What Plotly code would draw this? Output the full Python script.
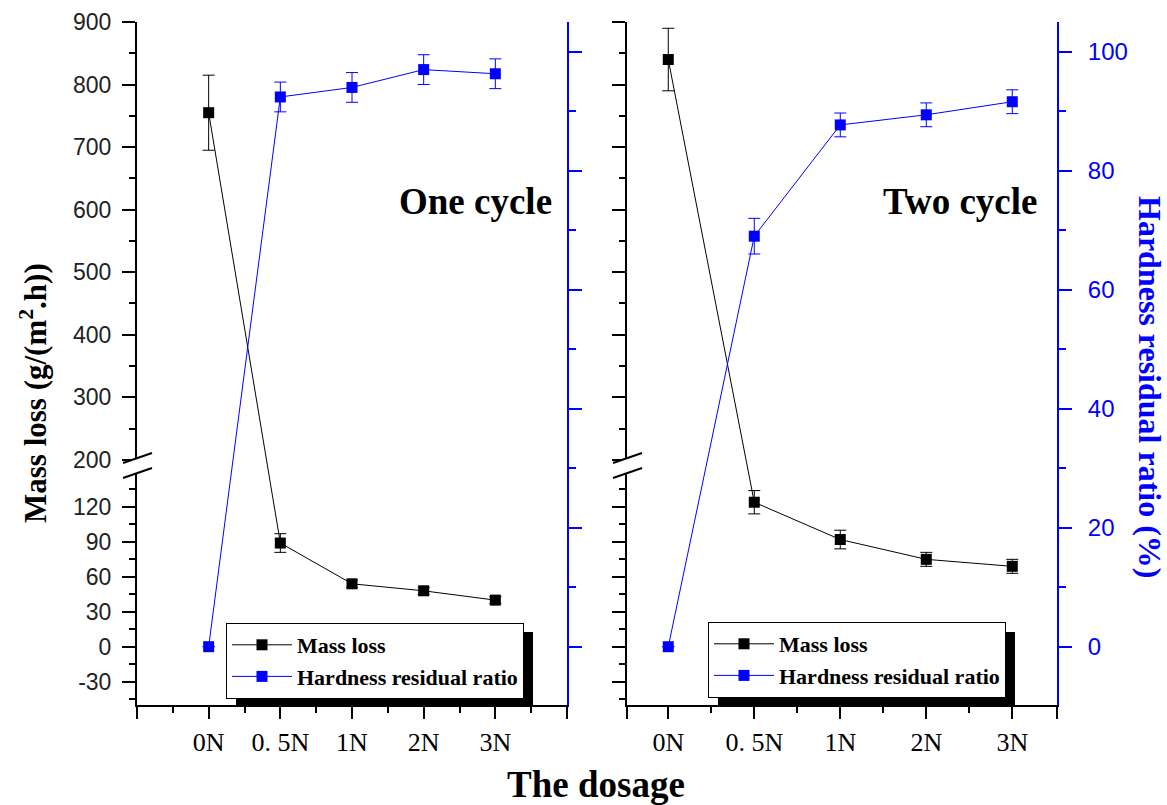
import plotly.graph_objects as go

# ---------------- data ----------------
categories = ["0N", "0. 5N", "1N", "2N", "3N"]

mass_loss_one = [755, 89, 54, 48, 40]
mass_loss_one_err = [60, 8, 3, 3, 3]
hardness_one = [0, 92.4, 94.0, 97.0, 96.3]
hardness_one_err = [0, 2.5, 2.5, 2.5, 2.5]

mass_loss_two = [840, 124, 92, 75, 69]
mass_loss_two_err = [50, 10, 8, 6, 6]
hardness_two = [0, 69.0, 87.7, 89.4, 91.6]
hardness_two_err = [0, 3, 2, 2, 2]

ml_major_low = [-30, 0, 30, 60, 90, 120]
ml_minor_low = [-45, -15, 15, 45, 75, 105, 135]
ml_major_up = [200, 300, 400, 500, 600, 700, 800, 900]
ml_minor_up = [250, 350, 450, 550, 650, 750, 850]
hr_major = [0, 20, 40, 60, 80, 100]

# ---------------- broken-axis scale ----------------
LOW_TOP, UP_BOT, RATIO = 155.0, 190.0, 0.5368


def brk(v):
    return v if v <= LOW_TOP else LOW_TOP + (v - UP_BOT) * RATIO


ML_RANGE = [-50, brk(900)]
HR_RANGE = [-9.8, 105]

W, H = 1167, 805


def px(x):
    return x / W


def py(y):
    return 1 - y / H


xpos = [i + 1 for i in range(len(categories))]

BLUE = "#0000FF"
SERIF = "Liberation Serif"
SANS = "Liberation Sans"

fig = go.Figure()


def err(vals, errs):
    plus = [brk(v + e) - brk(v) for v, e in zip(vals, errs)]
    minus = [brk(v) - brk(v - e) for v, e in zip(vals, errs)]
    return plus, minus


def add_panel(xa, ya_ml, ya_hr, ml, ml_e, hr, hr_e, legend):
    p, m = err(ml, ml_e)
    fig.add_trace(go.Scatter(
        x=xpos, y=[brk(v) for v in ml], xaxis=xa, yaxis=ya_ml,
        mode="lines+markers", name="Mass loss", legend=legend,
        line=dict(color="black", width=1),
        marker=dict(symbol="square", size=11, color="black"),
        error_y=dict(type="data", array=p, arrayminus=m, symmetric=False,
                     color="black", thickness=1, width=6),
        cliponaxis=False,
    ))
    fig.add_trace(go.Scatter(
        x=xpos, y=hr, xaxis=xa, yaxis=ya_hr,
        mode="lines+markers", name="Hardness residual ratio", legend=legend,
        line=dict(color=BLUE, width=1),
        marker=dict(symbol="square", size=11, color=BLUE),
        error_y=dict(type="data", array=hr_e, color=BLUE, thickness=1, width=6),
        cliponaxis=False,
    ))


add_panel("x", "y", "y2", mass_loss_one, mass_loss_one_err, hardness_one, hardness_one_err, "legend")
add_panel("x2", "y3", "y4", mass_loss_two, mass_loss_two_err, hardness_two, hardness_two_err, "legend2")

ydom = [py(705), py(22)]
dom_l = [px(137), px(567)]
dom_r = [px(627), px(1057)]

ml_tickvals = [brk(v) for v in ml_major_low + ml_major_up]
ml_ticktext = [str(v) for v in ml_major_low + ml_major_up]
ml_minor = [brk(v) for v in ml_minor_low + ml_minor_up]


def xaxis_bottom(domain, rng, majors, labels, minors):
    return dict(domain=domain, range=rng, tickmode="array",
                tickvals=majors, ticktext=labels, ticks="outside", ticklen=12,
                tickwidth=2, tickcolor="black", showline=True, linewidth=2,
                linecolor="black", showgrid=False, zeroline=False,
                tickfont=dict(family=SERIF, size=26, color="black"),
                ticklabelstandoff=1,
                minor=dict(tickmode="array", tickvals=minors, ticks="outside",
                           ticklen=6, tickwidth=2, tickcolor="black"))


def xaxis_top(over, rng, majors, minors):
    return dict(overlaying=over, side="top", range=rng, tickmode="array",
                tickvals=majors, showticklabels=False, ticks="inside", ticklen=12,
                tickwidth=2, tickcolor="black", showline=True, linewidth=2,
                linecolor="black", showgrid=False, zeroline=False,
                minor=dict(tickmode="array", tickvals=minors, ticks="inside",
                           ticklen=6, tickwidth=2, tickcolor="black"))


def ml_axis(anchor, labels):
    return dict(domain=ydom, anchor=anchor, range=ML_RANGE, tickmode="array",
                tickvals=ml_tickvals, ticktext=ml_ticktext, showticklabels=labels,
                ticks="outside", ticklen=13, tickwidth=2, tickcolor="black",
                showline=True, linewidth=2, linecolor="black", showgrid=False,
                zeroline=False, ticklabelstandoff=6,
                tickfont=dict(family=SANS, size=23, color="#222222"),
                minor=dict(tickmode="array", tickvals=ml_minor, ticks="outside",
                           ticklen=6, tickwidth=2, tickcolor="black"))


def hr_axis(over, anchor, labels):
    return dict(overlaying=over, anchor=anchor, side="right", range=HR_RANGE,
                tickmode="array", tickvals=hr_major, showticklabels=labels,
                ticks="outside", ticklen=13, tickwidth=2, tickcolor=BLUE,
                showline=True, linewidth=2, linecolor=BLUE, showgrid=False,
                zeroline=False, ticklabelstandoff=11,
                tickfont=dict(family=SANS, size=24, color=BLUE),
                minor=dict(tickmode="linear", tick0=0, dtick=10, ticks="outside",
                           ticklen=7, tickwidth=2, tickcolor=BLUE))


rng_l = [0, 6]
rng_r = [0.52, 5.52]
maj_l = [0] + xpos + [6]
lab_l = [" "] + categories + [" "]
min_l = [0.5, 1.5, 2.5, 3.5, 4.5, 5.5]
maj_r = [0.52] + xpos + [5.52]
lab_r = [" "] + categories + [" "]
min_r = [1.5, 2.5, 3.5, 4.5]

xa1 = xaxis_bottom(dom_l, rng_l, maj_l, lab_l, min_l)
xa1["anchor"] = "y"
xa2 = xaxis_bottom(dom_r, rng_r, maj_r, lab_r, min_r)
xa2["anchor"] = "y3"
xa3 = xaxis_top("x", rng_l, maj_l, min_l)
xa3["anchor"] = "y"
xa4 = xaxis_top("x2", rng_r, maj_r, min_r)
xa4["anchor"] = "y3"

legend_common = dict(xanchor="left", yanchor="top", bgcolor="white",
                     bordercolor="black", borderwidth=1, itemwidth=60,
                     font=dict(family=SERIF, size=22, color="black", weight="bold"),
                     tracegroupgap=0)

shapes = []
# legend shadows (offset 10 px right/down from each legend box)
shapes.append(dict(type="rect", xref="paper", yref="paper", x0=px(236), x1=px(533),
                   y0=py(705), y1=py(632), fillcolor="black", line=dict(width=0), layer="above"))
shapes.append(dict(type="rect", xref="paper", yref="paper", x0=px(718), x1=px(1015),
                   y0=py(705), y1=py(632), fillcolor="black", line=dict(width=0), layer="above"))
# axis break marks
for ax_x in (137, 627):
    x0, x1 = ax_x - 14, ax_x + 15
    shapes.append(dict(type="path", xref="paper", yref="paper",
                       path=f"M {px(x0)} {py(463)} L {px(x1)} {py(453)} L {px(x1)} {py(468)} L {px(x0)} {py(478)} Z",
                       fillcolor="white", line=dict(width=0), layer="above"))
    for (ya, yb) in ((463, 453), (478, 468)):
        shapes.append(dict(type="line", xref="paper", yref="paper",
                           x0=px(x0), y0=py(ya), x1=px(x1), y1=py(yb),
                           line=dict(color="black", width=2), layer="above"))

annotations = [
    dict(text="One cycle", x=px(475), y=py(201), xref="paper", yref="paper",
         showarrow=False, xanchor="center", yanchor="middle",
         font=dict(family=SERIF, size=37, color="black", weight="bold")),
    dict(text="Two cycle", x=px(960), y=py(201), xref="paper", yref="paper",
         showarrow=False, xanchor="center", yanchor="middle",
         font=dict(family=SERIF, size=37, color="black", weight="bold")),
    dict(text="The dosage", x=px(596), y=py(784), xref="paper", yref="paper",
         showarrow=False, xanchor="center", yanchor="middle",
         font=dict(family=SERIF, size=37, color="black", weight="bold")),
    dict(text="Mass loss (g/(m<sup>2</sup>.h))", x=px(33), y=py(393), xref="paper", yref="paper",
         showarrow=False, xanchor="center", yanchor="middle", textangle=-90,
         font=dict(family=SERIF, size=31, color="black", weight="bold")),
    dict(text="Hardness residual ratio (%)", x=px(1150), y=py(387), xref="paper", yref="paper",
         showarrow=False, xanchor="center", yanchor="middle", textangle=90,
         font=dict(family=SERIF, size=32, color=BLUE, weight="bold")),
]

fig.update_layout(
    width=W, height=H,
    margin=dict(l=0, r=0, t=0, b=0, pad=0, autoexpand=False),
    paper_bgcolor="white", plot_bgcolor="white",
    xaxis=xa1, xaxis2=xa2, xaxis3=xa3, xaxis4=xa4,
    yaxis=ml_axis("x", True), yaxis2=hr_axis("y", "x", False),
    yaxis3=ml_axis("x2", False), yaxis4=hr_axis("y3", "x2", True),
    legend=dict(x=px(226), y=py(623), **legend_common),
    legend2=dict(x=px(708), y=py(622), **legend_common),
    shapes=shapes, annotations=annotations,
    showlegend=True,
)

fig.write_html("out.html")
